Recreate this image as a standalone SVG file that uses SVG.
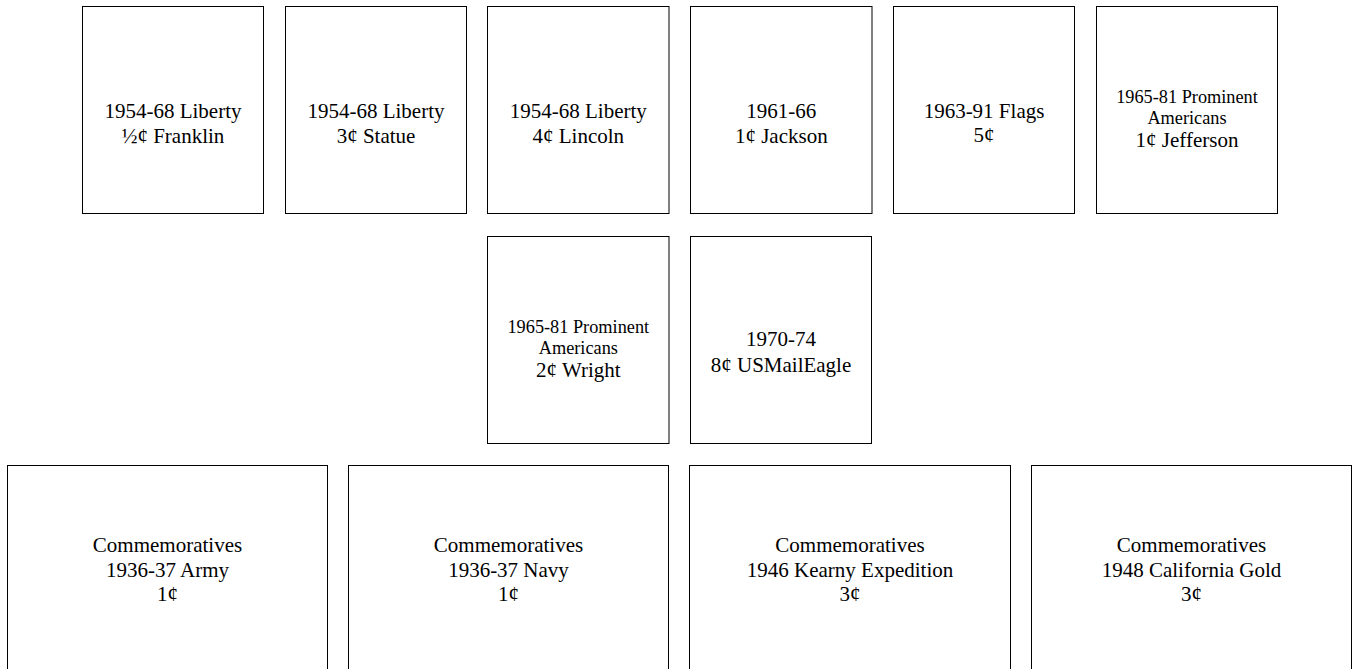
<svg xmlns="http://www.w3.org/2000/svg" width="1358" height="669" viewBox="0 0 1358 669">
<style>
rect.box{fill:#ffffff;stroke:#000000;stroke-width:1}
text{font-family:"Liberation Serif","Times New Roman",serif;fill:#000000;text-anchor:middle;font-size:21px}
text.s{font-size:18.3px}
</style>
<rect x="0" y="0" width="1358" height="669" fill="#ffffff"/>
<g id="connectors"/>
<g id="n1"><rect class="box" x="82.5" y="6.5" width="181" height="207"/><text x="173" y="118">1954-68 Liberty</text><text x="173" y="142.5">½¢ Franklin</text></g>
<g id="n2"><rect class="box" x="285.5" y="6.5" width="181" height="207"/><text x="376" y="118">1954-68 Liberty</text><text x="376" y="142.5">3¢ Statue</text></g>
<g id="n3"><rect class="box" x="487.5" y="6.5" width="181.5" height="207"/><text x="578.3" y="118">1954-68 Liberty</text><text x="578.3" y="142.5">4¢ Lincoln</text></g>
<g id="n4"><rect class="box" x="690.5" y="6.5" width="181.5" height="207"/><text x="781.3" y="118">1961-66</text><text x="781.3" y="142.5">1¢ Jackson</text></g>
<g id="n5"><rect class="box" x="893.5" y="6.5" width="181" height="207"/><text x="984" y="118">1963-91 Flags</text><text x="984" y="142">5¢</text></g>
<g id="n6"><rect class="box" x="1096.5" y="6.5" width="181" height="207"/><text class="s" x="1187" y="102.7">1965-81 Prominent</text><text class="s" x="1187" y="124">Americans</text><text x="1187" y="146.7">1¢ Jefferson</text></g>
<g id="n7"><rect class="box" x="487.5" y="236.5" width="181.5" height="207"/><text class="s" x="578.3" y="332.7">1965-81 Prominent</text><text class="s" x="578.3" y="354">Americans</text><text x="578.3" y="376.7">2¢ Wright</text></g>
<g id="n8"><rect class="box" x="690.5" y="236.5" width="181" height="207"/><text x="781" y="346">1970-74</text><text x="781" y="371.5">8¢ USMailEagle</text></g>
<g id="n9"><rect class="box" x="7.5" y="465.5" width="320" height="300"/><text x="167.5" y="552">Commemoratives</text><text x="167.5" y="576.5">1936-37 Army</text><text x="167.5" y="601">1¢</text></g>
<g id="n10"><rect class="box" x="348.5" y="465.5" width="320" height="300"/><text x="508.5" y="552">Commemoratives</text><text x="508.5" y="576.5">1936-37 Navy</text><text x="508.5" y="601">1¢</text></g>
<g id="n11"><rect class="box" x="689.5" y="465.5" width="321" height="300"/><text x="850" y="552">Commemoratives</text><text x="850" y="576.5">1946 Kearny Expedition</text><text x="850" y="601">3¢</text></g>
<g id="n12"><rect class="box" x="1031.5" y="465.5" width="320" height="300"/><text x="1191.5" y="552">Commemoratives</text><text x="1191.5" y="576.5">1948 California Gold</text><text x="1191.5" y="601">3¢</text></g>
</svg>
